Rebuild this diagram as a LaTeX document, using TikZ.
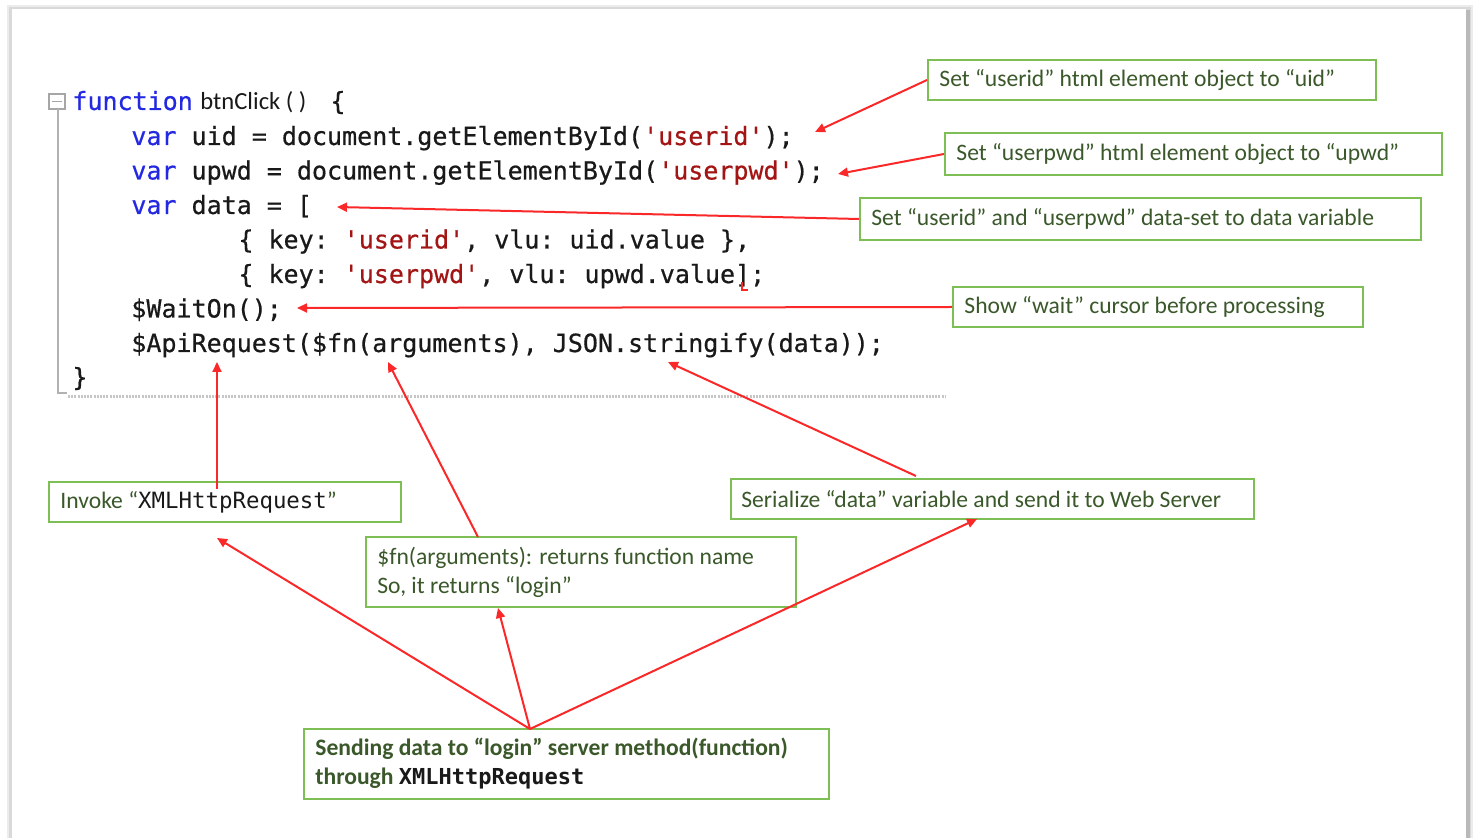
\documentclass[tikz,border=0pt]{standalone}
\usepackage{fontspec}
\setmainfont{Carlito}
\setmonofont{DejaVu Sans Mono}
\newfontfamily\codefont[FakeBold=0.6, WordSpace={1,0,0}, PunctuationSpace=WordSpace]{DejaVu Sans Mono}
\usetikzlibrary{arrows.meta,calc}
\definecolor{kw}{RGB}{35,40,225}
\definecolor{str}{RGB}{163,21,21}
\definecolor{codetxt}{RGB}{25,25,25}
\definecolor{note}{RGB}{58,88,42}
\definecolor{boxline}{RGB}{125,190,85}
\definecolor{arr}{RGB}{250,40,40}
\newcommand{\q}{\textquotesingle}
\begin{document}
\begin{tikzpicture}[x=0.5pt,y=-0.5pt,
  code/.style={anchor=base west, inner sep=0, text=codetxt,
    font=\codefont\fontsize{12.5}{15}\selectfont},
  lbox/.style={draw=boxline, line width=1pt, fill=white, inner sep=0},
  ltext/.style={anchor=west, inner sep=0, text=note, align=left,
    font=\fontsize{11.8}{14.5}\selectfont},
  ptr/.style={draw=arr, line width=1pt, -{Triangle[length=5pt,width=4.5pt]}}]
\useasboundingbox (0,0) rectangle (1475,838);

% page with soft edge shadow
\fill[white] (0,0) rectangle (1475,838);
\fill[gray!15] (7,5) rectangle (1473,838);
\fill[gray!30] (9,7) rectangle (1471,838);
\fill[gray!55] (1465,10) rectangle (1470,838);
\fill[white] (12,9) rectangle (1466,838);

% editor gutter: fold box, outline rule, end-of-block rule
\draw[gray!70, line width=0.8pt] (49,94) rectangle (65,109);
\draw[gray!70, line width=0.8pt] (52,101.5) -- (62,101.5);
\draw[gray!60, line width=1pt] (58,109) -- (58,393) -- (67,393);
\draw[gray!45, line width=1.5pt, dash pattern=on 1pt off 0.6pt] (68,397) -- (945,397);

% source code
\node[code, text=kw] (l1a) at (72,110) {function};
\node[anchor=base west, inner sep=0, text=codetxt,
      font=\fontsize{12.3}{15}\selectfont] (l1b) at (200,110) {btnClick ( )};
\node[code] (l1c) at (330,110) {\{};
\node[code] (l2) at (131,145) {\textcolor{kw}{var} uid = document.getElementById(\textcolor{str}{\q userid\q});};
\node[code] (l3) at (131,179.5) {\textcolor{kw}{var} upwd = document.getElementById(\textcolor{str}{\q userpwd\q});};
\node[code] (l4) at (131,214) {\textcolor{kw}{var} data = [};
\node[code] (l5) at (238,248.5) {\{ key: \textcolor{str}{\q userid\q}, vlu: uid.value \},};
\node[code] (l6) at (238,283) {\{ key: \textcolor{str}{\q userpwd\q}, vlu: upwd.value];};
\node[code] (l7) at (131,317.5) {\$WaitOn();};
\node[code] (l8) at (131,352) {\$ApiRequest(\$fn(arguments), JSON.stringify(data));};
\node[code] (l9) at (72,386) {\}};
% editor squiggle under the closing bracket
\draw[arr, line width=1pt] (742,282) -- (742,290) -- (748,290);

% annotation boxes
\node[lbox, minimum width=224pt, minimum height=20pt] (b1) at (1152,80) {};
\node[ltext] (t1) at ($(b1.west)+(12,0)$) {Set “userid” html element object to “uid”};
\node[lbox, minimum width=248.5pt, minimum height=21pt] (b2) at (1193.5,154) {};
\node[ltext] (t2) at ($(b2.west)+(12,0)$) {Set “userpwd” html element object to “upwd”};
\node[lbox, minimum width=280.5pt, minimum height=21pt] (b3) at (1140.5,219) {};
\node[ltext] (t3) at ($(b3.west)+(12,0)$) {Set “userid” and “userpwd” data-set to data variable};
\node[lbox, minimum width=205pt, minimum height=20pt] (b4) at (1158,307) {};
\node[ltext] (t4) at ($(b4.west)+(12,0)$) {Show “wait” cursor before processing};
\node[lbox, minimum width=176pt, minimum height=20pt] (b5) at (225,502) {};
\node[ltext] (t5) at ($(b5.west)+(12,0)$) {Invoke “\textcolor{codetxt}{\ttfamily\fontsize{11.2}{14.5}\selectfont XMLHttpRequest}”};
\node[lbox, minimum width=261.5pt, minimum height=20pt] (b6) at (992.5,499) {};
\node[ltext] (t6) at ($(b6.west)+(11,0)$) {Serialize “data” variable and send it to Web Server};
\node[lbox, minimum width=215pt, minimum height=35pt] (b7) at (581,572) {};
\node[ltext] (t7) at ($(b7.west)+(12,0)$) {\$fn(arguments): returns function name\\So, it returns “login”};
\node[lbox, minimum width=262.5pt, minimum height=35pt] (b8) at (566.5,764) {};
\node[ltext, font=\bfseries\fontsize{11.8}{14.5}\selectfont] (t8) at ($(b8.west)+(12,0)$)
  {Sending data to “login” server method(function)\\through \textcolor{codetxt}{\ttfamily\bfseries\fontsize{11}{14.5}\selectfont XMLHttpRequest}};

% connector ends
\coordinate (p1) at (815,132);
\coordinate (p2) at (838,174);
\coordinate (p3) at (337,207);
\coordinate (p4) at (297,308);
\coordinate (p5) at (217,362);
\coordinate (s5) at (217,489);
\coordinate (p6) at (388,362);
\coordinate (s6) at (478,537);
\coordinate (p7) at (668,362);
\coordinate (s7) at (916,476);
\coordinate (hub) at (530,729);
\coordinate (p8) at (217,538);
\coordinate (p9) at (498,608);
\coordinate (p10) at (977,519);

% connectors
\draw[ptr] (b1.west) -- (p1);
\draw[ptr] (b2.west) -- (p2);
\draw[ptr] (b3.west) -- (p3);
\draw[ptr] (b4.west) -- (p4);
\draw[ptr] (s5) -- (p5);
\draw[ptr] (s6) -- (p6);
\draw[ptr] (s7) -- (p7);
\draw[ptr] (hub) -- (p8);
\draw[ptr] (hub) -- (p9);
\draw[ptr] (hub) -- (p10);
\end{tikzpicture}
\end{document}
